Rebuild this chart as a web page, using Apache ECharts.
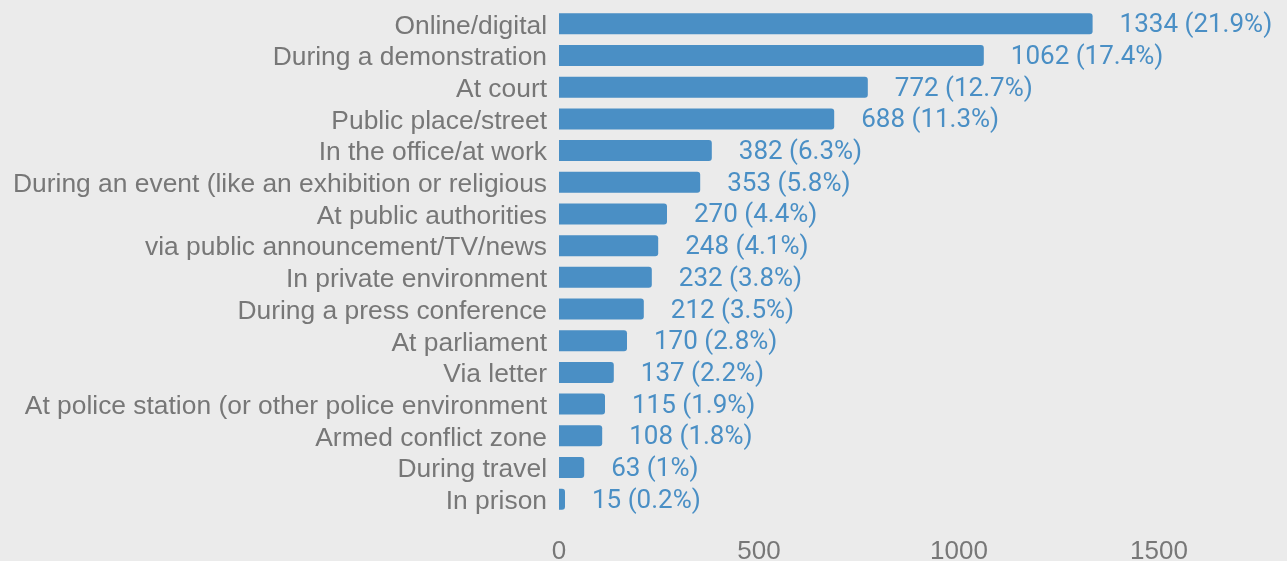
<!DOCTYPE html>
<html>
<head>
<meta charset="utf-8">
<script src="https://cdn.jsdelivr.net/npm/echarts@6/dist/echarts.min.js"></script>
<style>
  html, body { margin: 0; padding: 0; background: #ebebeb; }
  #chart { width: 1287px; height: 561px; }
</style>
</head>
<body>
<div id="chart"></div>
<script>
const categories = [
  'Online/digital',
  'During a demonstration',
  'At court',
  'Public place/street',
  'In the office/at work',
  'During an event (like an exhibition or religious',
  'At public authorities',
  'via public announcement/TV/news',
  'In private environment',
  'During a press conference',
  'At parliament',
  'Via letter',
  'At police station (or other police environment',
  'Armed conflict zone',
  'During travel',
  'In prison'
];
const counts = [1334, 1062, 772, 688, 382, 353, 270, 248, 232, 212, 170, 137, 115, 108, 63, 15];
const shares = ['21.9', '17.4', '12.7', '11.3', '6.3', '5.8', '4.4', '4.1', '3.8', '3.5', '2.8', '2.2', '1.9', '1.8', '1', '0.2'];
const xTicks = [0, 500, 1000, 1500];

const chart = echarts.init(document.getElementById('chart'));
chart.setOption({
  backgroundColor: '#ebebeb',
  animation: false,
  grid: { left: 559, right: 8, top: 8, bottom: 46, containLabel: false, outerBoundsMode: 'none' },
  xAxis: {
    type: 'value',
    min: 0,
    max: 1800,
    interval: 500,
    splitLine: { show: false },
    axisLine: { show: false },
    axisTick: { show: false },
    axisLabel: {
      color: '#777777',
      fontFamily: 'Liberation Sans',
      fontSize: 26,
      margin: 24,
      formatter: v => (xTicks.includes(v) ? String(v) : '')
    }
  },
  yAxis: {
    type: 'category',
    data: categories,
    inverse: true,
    axisLine: { show: false },
    axisTick: { show: false },
    axisLabel: {
      interval: 0,
      margin: 12,
      formatter: v => '{c|' + v + '}',
      rich: {
        c: {
          color: '#777777',
          fontFamily: 'Liberation Sans',
          fontSize: 26.4,
          padding: [5, 0, 0, 0]
        }
      }
    }
  },
  series: [{
    type: 'bar',
    data: counts,
    barWidth: 21,
    itemStyle: { color: '#4a8fc5', borderRadius: [0, 3, 3, 0] },
    label: {
      show: true,
      position: 'right',
      distance: 27,
      color: '#4a8fc5',
      fontFamily: 'Roboto',
      fontSize: 26,
      offset: [0, 2],
      formatter: p => p.value + ' (' + shares[p.dataIndex] + '%)'
    }
  }]
});
</script>
</body>
</html>
